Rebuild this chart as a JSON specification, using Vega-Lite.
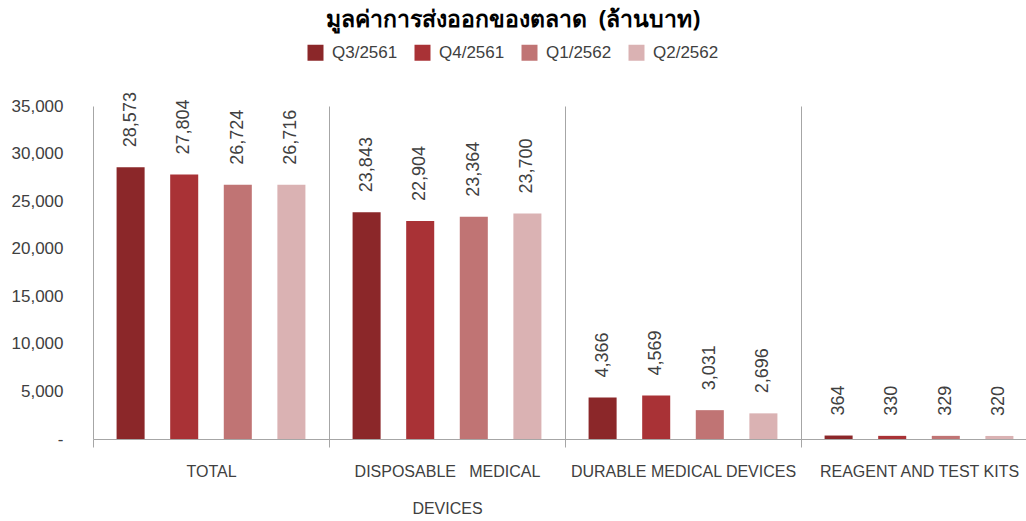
{
  "$schema": "https://vega.github.io/schema/vega-lite/v6.json",
  "autosize": "none",
  "padding": {"left": 93, "top": 106, "right": 0, "bottom": 82},
  "width": 944,
  "height": 333,
  "background": "white",
  "config": {
    "font": "Liberation Sans",
    "view": {"stroke": null}
  },
  "title": {
    "text": "มูลค่าการส่งออกของตลาด\u00a0\u00a0(ล้านบาท)",
    "fontSize": 23,
    "fontWeight": "bold",
    "color": "#000000",
    "anchor": "middle",
    "dx": -52,
    "offset": 12,
    "font": "Noto Sans"
  },
  "data": {
    "values": [
      {"cat": "TOTAL", "q": "Q3/2561", "v": 28573},
      {"cat": "TOTAL", "q": "Q4/2561", "v": 27804},
      {"cat": "TOTAL", "q": "Q1/2562", "v": 26724},
      {"cat": "TOTAL", "q": "Q2/2562", "v": 26716},
      {"cat": "DISPOSABLE MEDICAL DEVICES", "q": "Q3/2561", "v": 23843},
      {"cat": "DISPOSABLE MEDICAL DEVICES", "q": "Q4/2561", "v": 22904},
      {"cat": "DISPOSABLE MEDICAL DEVICES", "q": "Q1/2562", "v": 23364},
      {"cat": "DISPOSABLE MEDICAL DEVICES", "q": "Q2/2562", "v": 23700},
      {"cat": "DURABLE MEDICAL DEVICES", "q": "Q3/2561", "v": 4366},
      {"cat": "DURABLE MEDICAL DEVICES", "q": "Q4/2561", "v": 4569},
      {"cat": "DURABLE MEDICAL DEVICES", "q": "Q1/2562", "v": 3031},
      {"cat": "DURABLE MEDICAL DEVICES", "q": "Q2/2562", "v": 2696},
      {"cat": "REAGENT AND TEST KITS", "q": "Q3/2561", "v": 364},
      {"cat": "REAGENT AND TEST KITS", "q": "Q4/2561", "v": 330},
      {"cat": "REAGENT AND TEST KITS", "q": "Q1/2562", "v": 329},
      {"cat": "REAGENT AND TEST KITS", "q": "Q2/2562", "v": 320}
    ]
  },
  "encoding": {
    "x": {
      "field": "cat",
      "type": "nominal",
      "sort": ["TOTAL", "DISPOSABLE MEDICAL DEVICES", "DURABLE MEDICAL DEVICES", "REAGENT AND TEST KITS"],
      "scale": {"paddingInner": 0, "paddingOuter": 0},
      "axis": {
        "title": null,
        "labelAngle": 0,
        "labelFontSize": 16,
        "labelColor": "#404040",
        "labelLimit": 400,
        "labelPadding": 16,
        "labelLineHeight": 37,
        "labelBaseline": "top",
        "labelExpr": "datum.label == 'DISPOSABLE MEDICAL DEVICES' ? ['DISPOSABLE\u00a0\u00a0\u00a0MEDICAL', 'DEVICES'] : datum.label",
        "bandPosition": 0,
        "grid": true,
        "gridColor": "#a6a6a6",
        "gridWidth": 1,
        "ticks": true,
        "tickColor": "#a6a6a6",
        "tickSize": 8,
        "tickBand": "extent",
        "domainColor": "#a6a6a6",
        "domainWidth": 1
      }
    },
    "xOffset": {
      "field": "q",
      "type": "nominal",
      "sort": ["Q3/2561", "Q4/2561", "Q1/2562", "Q2/2562"],
      "scale": {"paddingInner": 0.477, "paddingOuter": 0.44}
    },
    "y": {
      "field": "v",
      "type": "quantitative",
      "scale": {"domain": [0, 35000], "nice": false},
      "axis": {
        "title": null,
        "values": [0, 5000, 10000, 15000, 20000, 25000, 30000, 35000],
        "labelExpr": "datum.value == 0 ? '-' : format(datum.value, ',')",
        "labelFontSize": 17,
        "labelColor": "#404040",
        "labelPadding": 30,
        "ticks": false,
        "domain": false,
        "grid": false
      }
    }
  },
  "layer": [
    {
      "mark": {"type": "bar"},
      "encoding": {
        "color": {
          "field": "q",
          "type": "nominal",
          "sort": ["Q3/2561", "Q4/2561", "Q1/2562", "Q2/2562"],
          "scale": {
            "domain": ["Q3/2561", "Q4/2561", "Q1/2562", "Q2/2562"],
            "range": ["#8b2729", "#a93236", "#c07474", "#dab2b3"]
          },
          "legend": {
            "title": null,
            "orient": "none",
            "direction": "horizontal",
            "columns": 4,
            "legendX": 214,
            "legendY": -62,
            "symbolType": "square",
            "symbolSize": 256,
            "symbolStrokeWidth": 0,
            "labelFontSize": 17,
            "labelColor": "#404040",
            "labelOffset": 8,
            "columnPadding": 16
          }
        }
      }
    },
    {
      "mark": {
        "type": "text",
        "angle": -90,
        "align": "left",
        "baseline": "middle",
        "dx": 20,
        "fontSize": 18,
        "color": "#404040"
      },
      "encoding": {
        "text": {"field": "v", "type": "quantitative", "format": ","}
      }
    }
  ]
}
